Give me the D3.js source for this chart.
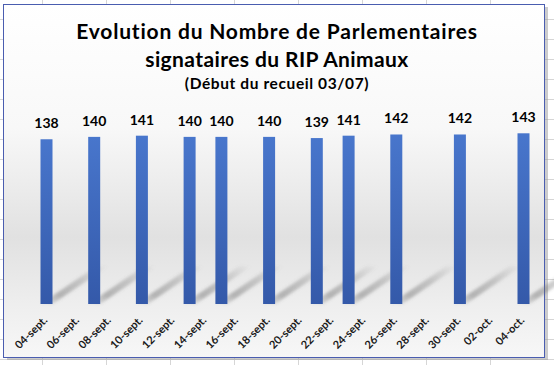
<!DOCTYPE html>
<html><head><meta charset="utf-8">
<script src="https://cdn.jsdelivr.net/npm/d3@7/dist/d3.min.js"></script>
<style>html,body{margin:0;padding:0;background:#fff;}svg{display:block;}</style>
</head><body><svg id="c" width="554" height="365"></svg>
<script>
const dates = ["2020-09-04","2020-09-07","2020-09-10","2020-09-13","2020-09-15","2020-09-18","2020-09-21","2020-09-23","2020-09-26","2020-09-30","2020-10-04"];
const values = [138,140,141,140,140,140,139,141,142,142,143];
const tickDates = ["2020-09-04","2020-09-06","2020-09-08","2020-09-10","2020-09-12","2020-09-14","2020-09-16","2020-09-18","2020-09-20","2020-09-22","2020-09-24","2020-09-26","2020-09-28","2020-09-30","2020-10-02","2020-10-04"];
const tickLabels = ["04-sept.","06-sept.","08-sept.","10-sept.","12-sept.","14-sept.","16-sept.","18-sept.","20-sept.","22-sept.","24-sept.","26-sept.","28-sept.","30-sept.","02-oct.","04-oct."];
const titleLines = ["Evolution du Nombre de Parlementaires","signataires du RIP Animaux"];
const subtitle = "(Début du recueil 03/07)";

const parse = d3.utcParse("%Y-%m-%d");
const svg = d3.select("#c");
const W = 554, H = 365;
const font = "Lato, 'Open Sans', sans-serif";

const defs = svg.append("defs");
const bg = defs.append("linearGradient").attr("id","bg").attr("x1",0).attr("y1",0).attr("x2",0).attr("y2",1);
[[0,"#ffffff"],[0.35,"#f8f8f8"],[0.66,"#e1e1e1"],[0.85,"#eeeeee"],[1,"#f7f7f7"]].forEach(([o,c])=>bg.append("stop").attr("offset",o).attr("stop-color",c));
const bar = defs.append("linearGradient").attr("id","bar").attr("x1",0).attr("y1",0).attr("x2",0).attr("y2",1);
[[0,"#4876cc"],[1,"#3459a9"]].forEach(([o,c])=>bar.append("stop").attr("offset",o).attr("stop-color",c));
const sh = defs.append("linearGradient").attr("id","sh").attr("x1",0).attr("y1",1).attr("x2",1).attr("y2",0);
[[0,0.05],[0.25,0.45],[0.6,0.3],[1,0]].forEach(([o,a])=>sh.append("stop").attr("offset",o).attr("stop-color","#6a6a6a").attr("stop-opacity",a));
defs.append("filter").attr("id","blur").attr("x","-20%").attr("y","-30%").attr("width","140%").attr("height","160%")
  .append("feGaussianBlur").attr("stdDeviation",1.8);

// spreadsheet grid behind
const gcols = d3.range(-10, W, 64).map(v=>v+52);
const grows = d3.range(19, H, 20);
svg.append("g").selectAll("line.v").data(gcols).join("line")
  .attr("x1",d=>d+0.5).attr("x2",d=>d+0.5).attr("y1",0).attr("y2",H).attr("stroke","#d6d6d6");
svg.append("g").selectAll("line.h").data(grows).join("line")
  .attr("y1",d=>d+0.5).attr("y2",d=>d+0.5).attr("x1",0).attr("x2",W).attr("stroke","#d6d6d6");

// chart box
const bx = 3, by = 4, bw = 541, bh = 353;
svg.append("rect").attr("x",bx+4).attr("y",by+3).attr("width",bw).attr("height",bh).attr("fill","#9a9a9a").attr("opacity",0.5);
svg.append("rect").attr("x",bx+0.5).attr("y",by+0.5).attr("width",bw).attr("height",bh)
  .attr("fill","url(#bg)").attr("stroke","#4a5db0").attr("stroke-width",1);

// scales
const x = d3.scaleUtc().domain([parse("2020-09-04"), parse("2020-10-04")]).range([46.5, 523.5]);
const y = d3.scaleLinear().domain([0,160]).range([304,113]);
const bwid = 12;

// shadows
const dx = 56, dy = -38;
svg.append("g").attr("filter","url(#blur)").selectAll("polygon").data(dates).join("polygon")
  .attr("points",(d)=>{const cx=x(parse(d)), l=cx-bwid/2, r=cx+bwid/2, b=y(0);
    return [[l,b],[r,b],[r+dx,b+dy],[l+dx,b+dy]].map(p=>p.join(",")).join(" ");})
  .attr("fill","url(#sh)");

// bars
svg.append("g").selectAll("rect").data(dates).join("rect")
  .attr("x",d=>x(parse(d))-bwid/2).attr("width",bwid)
  .attr("y",(d,i)=>y(values[i])).attr("height",(d,i)=>y(0)-y(values[i]))
  .attr("fill","url(#bar)");

// value labels
svg.append("g").selectAll("text").data(dates).join("text")
  .attr("x",d=>x(parse(d))).attr("y",(d,i)=>y(values[i])-11)
  .attr("text-anchor","middle").attr("font-family",font).attr("font-weight","bold")
  .attr("font-size",14).attr("fill","#000").text((d,i)=>values[i]);

// x axis
const axis = d3.axisBottom(x).tickValues(tickDates.map(parse))
  .tickFormat((d,i)=>tickLabels[i]).tickSize(0).tickPadding(0);
const ax = svg.append("g").attr("transform","translate(0,315)").call(axis);
ax.select(".domain").remove();
ax.selectAll("text").attr("font-family",font).attr("font-size",11).attr("font-weight","bold").attr("fill","#1a1a1a")
  .attr("text-anchor","end").attr("dy",null).attr("y",0)
  .attr("transform","translate(1,6) rotate(-45)");

// titles
const tg = svg.append("g").attr("font-family",font).attr("font-weight","bold").attr("fill","#000").attr("text-anchor","middle");
const spacing = [0.8, 0.4];
tg.selectAll("text.t").data(titleLines).join("text").attr("class","t")
  .attr("x",277).attr("y",(d,i)=>39+i*28).attr("font-size",21).attr("letter-spacing",(d,i)=>spacing[i]).text(d=>d);
tg.append("text").attr("x",277).attr("y",89).attr("font-size",15.5).attr("letter-spacing",0.6).text(subtitle);
</script></body></html>
